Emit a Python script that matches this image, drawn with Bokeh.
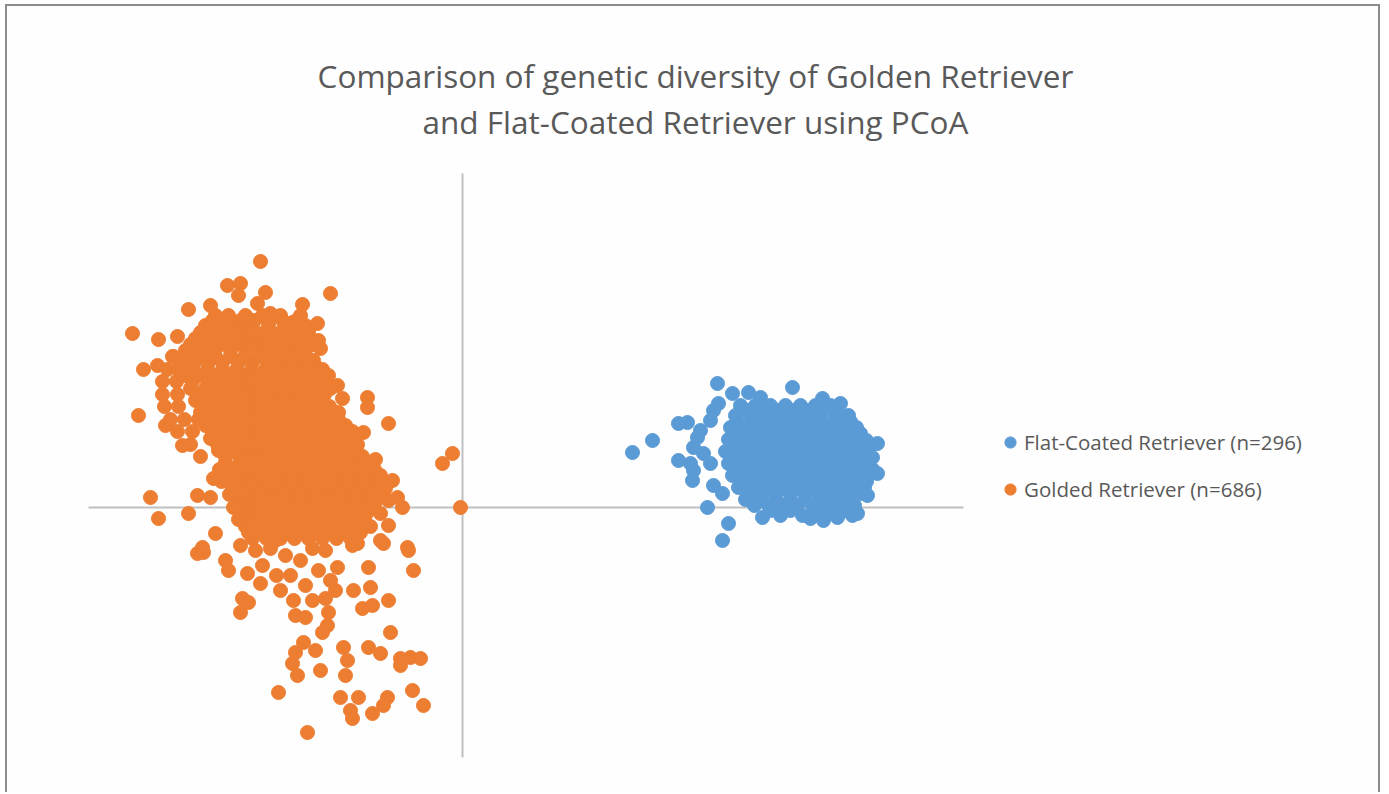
from bokeh.plotting import figure
from bokeh.models import (ColumnDataSource, Range1d, LinearAxis, FixedTicker,
                          Legend, LegendItem, Label)
from bokeh.embed import file_html
from bokeh.resources import INLINE

# ---------------- data (PCoA coordinates) ----------------
title_line1 = "Comparison of genetic diversity of Golden Retriever"
title_line2 = "and Flat-Coated Retriever using PCoA"
flat_label = "Flat-Coated Retriever (n=296)"
golden_label = "Golded Retriever (n=686)"

# extent of the two PCoA axes
axis_x_bounds = (-374, 501)
axis_y_bounds = (-250, 334)

golden_x = [
    -202, -235, -222, -224, -197, -132, -274, -252, -205, -192, -160, -170, -145, -144, -142, -149, -144, -169,
    -330, -304, -285, -319, -305, -289, -125, -142, -120, -95, -74, -99, -95, -87, -20, -10, -70, -65, -60, -2,
    -55, -74, -82, -105, -90, -324, -297, -280, -249, -312, -265, -252, -304, -274, -247, -260,
    -265, -259, -237, -234, -215, -202, -220, -222, -214, -182, -169, -167, -157, -134, -135, -140, -159, -167,
    -170, -165, -147, -142, -119, -115, -117, -137, -125, -127, -109, -92, -100, -90, -94, -74, -54, -49, -110,
    -79, -72, -94, -82, -62, -52, -42, -62, -184, -122, -104, -112, -110, -90, -75, -79, -50, -39, -155,
    -222, -207, -192, -177, -162, -150, -200, -172, -157, -144, -132, -186, -150, -137, -187,
    -247, -234, -217, -200, -182, -162,
    -257, -240, -224, -210, -194, -177, -157,
    -267, -252, -236, -221, -206, -190, -174, -162,
    -277, -262, -248, -232, -216, -200, -186, -172, -157,
    -282, -268, -254, -240, -224, -210, -194, -180, -166, -154,
    -277, -262, -247, -233, -218, -204, -190, -176, -162, -147, -134,
    -272, -257, -242, -228, -214, -200, -185, -171, -157, -144, -132,
    -267, -252, -238, -224, -210, -196, -182, -168, -154, -140,
    -262, -248, -234, -220, -206, -192, -178, -164, -150, -136, -124,
    -257, -243, -229, -215, -201, -187, -173, -159, -145, -131, -117,
    -252, -238, -224, -210, -196, -182, -168, -154, -140, -126, -112,
    -244, -230, -216, -202, -188, -174, -160, -146, -132, -118, -106,
    -237, -222, -208, -194, -180, -166, -152, -138, -124, -110, -98,
    -234, -219, -205, -191, -177, -163, -149, -135, -121, -107, -94, -82,
    -230, -216, -202, -188, -174, -160, -146, -132, -118, -104, -90, -77,
    -226, -212, -198, -184, -170, -156, -142, -128, -114, -100, -86, -74,
    -222, -208, -194, -180, -166, -152, -138, -124, -110, -96, -82,
    -217, -203, -189, -175, -161, -147, -133, -119, -105, -92,
    -210, -196, -182, -168, -154, -140, -126, -112,
    -250, -236, -222, -208, -194, -180, -166,
    -262, -246, -230, -214, -198, -182, -168, -154,
    -272, -258, -242, -226, -210, -194, -180, -166, -150,
    -290, -275, -261, -247, -232, -218, -203, -188, -174, -160,
    -295, -284, -270, -255, -240, -226, -211, -197, -183, -169, -155, -140,
    -300, -286, -270, -254, -240, -225, -211, -197, -183, -169, -153, -138,
    -300, -285, -264, -250, -235, -221, -207, -192, -178, -164, -150, -138,
    -298, -284, -260, -245, -231, -217, -203, -189, -175, -161, -147, -133,
    -292, -278, -264, -250, -236, -222, -208, -194, -180, -166, -152, -138, -124,
    -285, -270, -250, -236, -222, -208, -194, -180, -166, -152, -138, -124, -110,
    -272, -245, -231, -217, -203, -189, -175, -161, -147, -133, -119, -105,
    -262, -237, -223, -209, -195, -181, -167, -153, -139, -125, -111, -100,
    -243, -229, -215, -201, -187, -173, -159, -145, -131, -117, -103, -88,
    -241, -227, -212, -198, -184, -170, -156, -142, -128, -114, -100, -84,
    -233, -219, -205, -191, -177, -163, -149, -135, -121, -107, -93, -80,
    -229, -215, -201, -187, -173, -159, -145, -131, -117, -103, -89,
    -224, -210, -196, -182, -168, -154, -140, -126, -112, -98,
    -214, -200, -186, -172, -158, -144, -130, -116, -102,
]
golden_y = [
    246, 222, 224, 212, 215, 214, 198, 202, 204, 194, 203, 185, 184, 167, 159, 147, 139, 150,
    174, 168, 171, 138, 142, 151, 122, 114, 109, 110, 84, 75, 100, 48, 44, 54, 27, 10, 0, 0,
    -40, -18, -33, -36, 27, 92, 82, 62, 29, 10, 12, 10, -11, -6, -26, -40,
    -46, -45, -53, -63, -66, -76, -91, -105, -95, -83, -93, -108, -110, -105, -118, -125, -135, -145,
    -156, -168, -143, -163, -140, -153, -168, -43, -60, -83, -83, -80, -101, -98, -60, -93, -43, -63, -38,
    -36, -125, -140, -146, -151, -150, -151, -158, -185, -190, -190, -203, -211, -206, -190, -198, -183, -198, -225,
    -38, -43, -41, -48, -53, -41, -58, -68, -78, -63, -73, -68, -93, -91, -33,
    192, 192, 192, 192, 192, 192,
    182, 182, 182, 182, 182, 182, 182,
    169, 169, 169, 169, 169, 169, 169, 169,
    157, 157, 157, 157, 157, 157, 157, 157, 157,
    145, 145, 145, 145, 145, 145, 145, 145, 145, 145,
    132, 132, 132, 132, 132, 132, 132, 132, 132, 132, 132,
    119, 119, 119, 119, 119, 119, 119, 119, 119, 119, 119,
    107, 107, 107, 107, 107, 107, 107, 107, 107, 107,
    95, 95, 95, 95, 95, 95, 95, 95, 95, 95, 95,
    82, 82, 82, 82, 82, 82, 82, 82, 82, 82, 82,
    69, 69, 69, 69, 69, 69, 69, 69, 69, 69, 69,
    57, 57, 57, 57, 57, 57, 57, 57, 57, 57, 57,
    45, 45, 45, 45, 45, 45, 45, 45, 45, 45, 45,
    32, 32, 32, 32, 32, 32, 32, 32, 32, 32, 32, 32,
    19, 19, 19, 19, 19, 19, 19, 19, 19, 19, 19, 19,
    7, 7, 7, 7, 7, 7, 7, 7, 7, 7, 7, 7,
    -6, -6, -6, -6, -6, -6, -6, -6, -6, -6, -6,
    -19, -19, -19, -19, -19, -19, -19, -19, -19, -19,
    -31, -31, -31, -31, -31, -31, -31, -31,
    187, 187, 187, 187, 187, 187, 187,
    175, 175, 175, 175, 175, 175, 175, 175,
    163, 163, 163, 163, 163, 163, 163, 163, 163,
    151, 151, 151, 151, 151, 151, 151, 151, 151, 151,
    138, 138, 138, 138, 138, 138, 138, 138, 138, 138, 138, 138,
    126, 126, 126, 126, 126, 126, 126, 126, 126, 126, 126, 126,
    113, 113, 113, 113, 113, 113, 113, 113, 113, 113, 113, 113,
    101, 101, 101, 101, 101, 101, 101, 101, 101, 101, 101, 101,
    88, 88, 88, 88, 88, 88, 88, 88, 88, 88, 88, 88, 88,
    76, 76, 76, 76, 76, 76, 76, 76, 76, 76, 76, 76, 76,
    63, 63, 63, 63, 63, 63, 63, 63, 63, 63, 63, 63,
    51, 51, 51, 51, 51, 51, 51, 51, 51, 51, 51, 51,
    38, 38, 38, 38, 38, 38, 38, 38, 38, 38, 38, 38,
    26, 26, 26, 26, 26, 26, 26, 26, 26, 26, 26, 26,
    13, 13, 13, 13, 13, 13, 13, 13, 13, 13, 13, 13,
    0, 0, 0, 0, 0, 0, 0, 0, 0, 0, 0,
    -12, -12, -12, -12, -12, -12, -12, -12, -12, -12,
    -25, -25, -25, -25, -25, -25, -25, -25, -25,
]

flat_x = [
    255, 330, 270, 286, 298, 360, 378, 256, 216, 225, 190, 170, 415, 216, 230, 228, 260, 245, 266, 260,
    300, 348, 361, 375, 395, 405, 415, 404, 396,
    231, 235, 238, 248, 251, 231, 241, 248, 251,
    278, 293, 308, 323, 338, 353, 368,
    273, 288, 302, 316, 330, 344, 358, 373, 386,
    268, 282, 296, 310, 324, 338, 352, 366, 380, 394,
    266, 280, 294, 308, 322, 336, 350, 364, 378, 392,
    263, 277, 291, 305, 319, 333, 347, 361, 375, 389, 402,
    266, 280, 294, 308, 322, 336, 350, 364, 378, 392, 406,
    270, 284, 298, 312, 326, 340, 354, 368, 382, 396,
    276, 290, 304, 318, 332, 346, 360, 374, 388, 402,
    283, 298, 313, 328, 343, 358, 373, 388,
    308, 328, 353, 368, 383,
    285, 300, 315, 330, 345, 360, 375,
    275, 290, 304, 318, 332, 346, 360, 374, 388,
    272, 286, 300, 314, 328, 342, 356, 370, 384, 398,
    270, 284, 298, 312, 326, 340, 354, 368, 382, 396, 408,
    270, 284, 298, 312, 326, 340, 354, 368, 382, 396, 410,
    273, 287, 301, 315, 329, 343, 357, 371, 385, 399, 410,
    280, 294, 308, 322, 336, 350, 364, 378, 392, 404,
    286, 300, 314, 328, 342, 356, 370, 384, 398,
    292, 306, 320, 335, 350, 365, 380, 392,
    318, 340, 358, 374, 390,
]
flat_y = [
    124, 120, 114, 115, 110, 109, 104, 104, 84, 85, 67, 55, 64, 47, 27, 44, 14, 0, -16, -33,
    -10, -11, -13, -10, -6, 12, 34, 67, 72,
    60, 70, 77, 87, 97, 37, 54, 44, 22,
    102, 102, 102, 102, 102, 102, 102,
    92, 92, 92, 92, 92, 92, 92, 92, 92,
    80, 80, 80, 80, 80, 80, 80, 80, 80, 80,
    68, 68, 68, 68, 68, 68, 68, 68, 68, 68,
    56, 56, 56, 56, 56, 56, 56, 56, 56, 56, 56,
    44, 44, 44, 44, 44, 44, 44, 44, 44, 44, 44,
    32, 32, 32, 32, 32, 32, 32, 32, 32, 32,
    20, 20, 20, 20, 20, 20, 20, 20, 20, 20,
    8, 8, 8, 8, 8, 8, 8, 8,
    -3, -3, -3, -3, -3,
    97, 97, 97, 97, 97, 97, 97,
    86, 86, 86, 86, 86, 86, 86, 86, 86,
    74, 74, 74, 74, 74, 74, 74, 74, 74, 74,
    62, 62, 62, 62, 62, 62, 62, 62, 62, 62, 62,
    50, 50, 50, 50, 50, 50, 50, 50, 50, 50, 50,
    38, 38, 38, 38, 38, 38, 38, 38, 38, 38, 38,
    26, 26, 26, 26, 26, 26, 26, 26, 26, 26,
    14, 14, 14, 14, 14, 14, 14, 14, 14,
    2, 2, 2, 2, 2, 2, 2, 2,
    -8, -8, -8, -8, -8,
]

# ---------------- styling ----------------
ORANGE = "#ED7D31"
BLUE = "#5B9BD5"
TEXT = "#595959"
FONT = "Open Sans"

p = figure(
    width=1375, height=788,
    x_range=Range1d(-455, 920), y_range=Range1d(-287, 501),
    x_axis_location=None, y_axis_location=None,
    min_border=0,
    toolbar_location=None, output_backend="svg",
)
p.styles = {"border-left": "2px solid #8c8c8c", "border-top": "2px solid #8c8c8c",
            "border-right": "2px solid #8c8c8c", "margin-left": "5px", "margin-top": "4px"}
p.outline_line_color = None
p.background_fill_color = "#FEFEFE"
p.border_fill_color = "#FEFEFE"
p.xgrid.visible = False
p.ygrid.visible = False

for loc, bnds in (("below", axis_x_bounds), ("left", axis_y_bounds)):
    ax = LinearAxis(fixed_location=0, bounds=bnds, ticker=FixedTicker(ticks=[]),
                    axis_line_color="#BFBFBF", axis_line_width=2,
                    major_tick_line_color=None, minor_tick_line_color=None,
                    major_tick_out=0, major_tick_in=0, minor_tick_out=0, minor_tick_in=0,
                    major_label_standoff=0,
                    major_label_text_font_size="0px", level="underlay")
    p.add_layout(ax, loc)

src_g = ColumnDataSource(dict(x=golden_x, y=golden_y))
src_f = ColumnDataSource(dict(x=flat_x, y=flat_y))
r_g = p.scatter("x", "y", source=src_g, size=14, fill_color=ORANGE, line_color=ORANGE)
r_f = p.scatter("x", "y", source=src_f, size=14, fill_color=BLUE, line_color=BLUE)

legend = Legend(items=[LegendItem(label=flat_label, renderers=[r_f]),
                       LegendItem(label=golden_label, renderers=[r_g])],
                location=(989, 289), orientation="vertical",
                glyph_width=28, glyph_height=32, label_height=32, spacing=15,
                label_standoff=0, padding=0, margin=0,
                border_line_color=None, background_fill_alpha=0,
                label_text_font=FONT, label_text_font_size="20.5px",
                label_text_color=TEXT)
p.add_layout(legend, "center")

for txt, yy in ((title_line1, 432), (title_line2, 386)):
    p.add_layout(Label(x=233, y=yy, text=txt, text_align="center", text_baseline="middle",
                       text_font=FONT, text_font_size="31.5px", text_color=TEXT))

open("out.html", "w").write(file_html(p, INLINE))
